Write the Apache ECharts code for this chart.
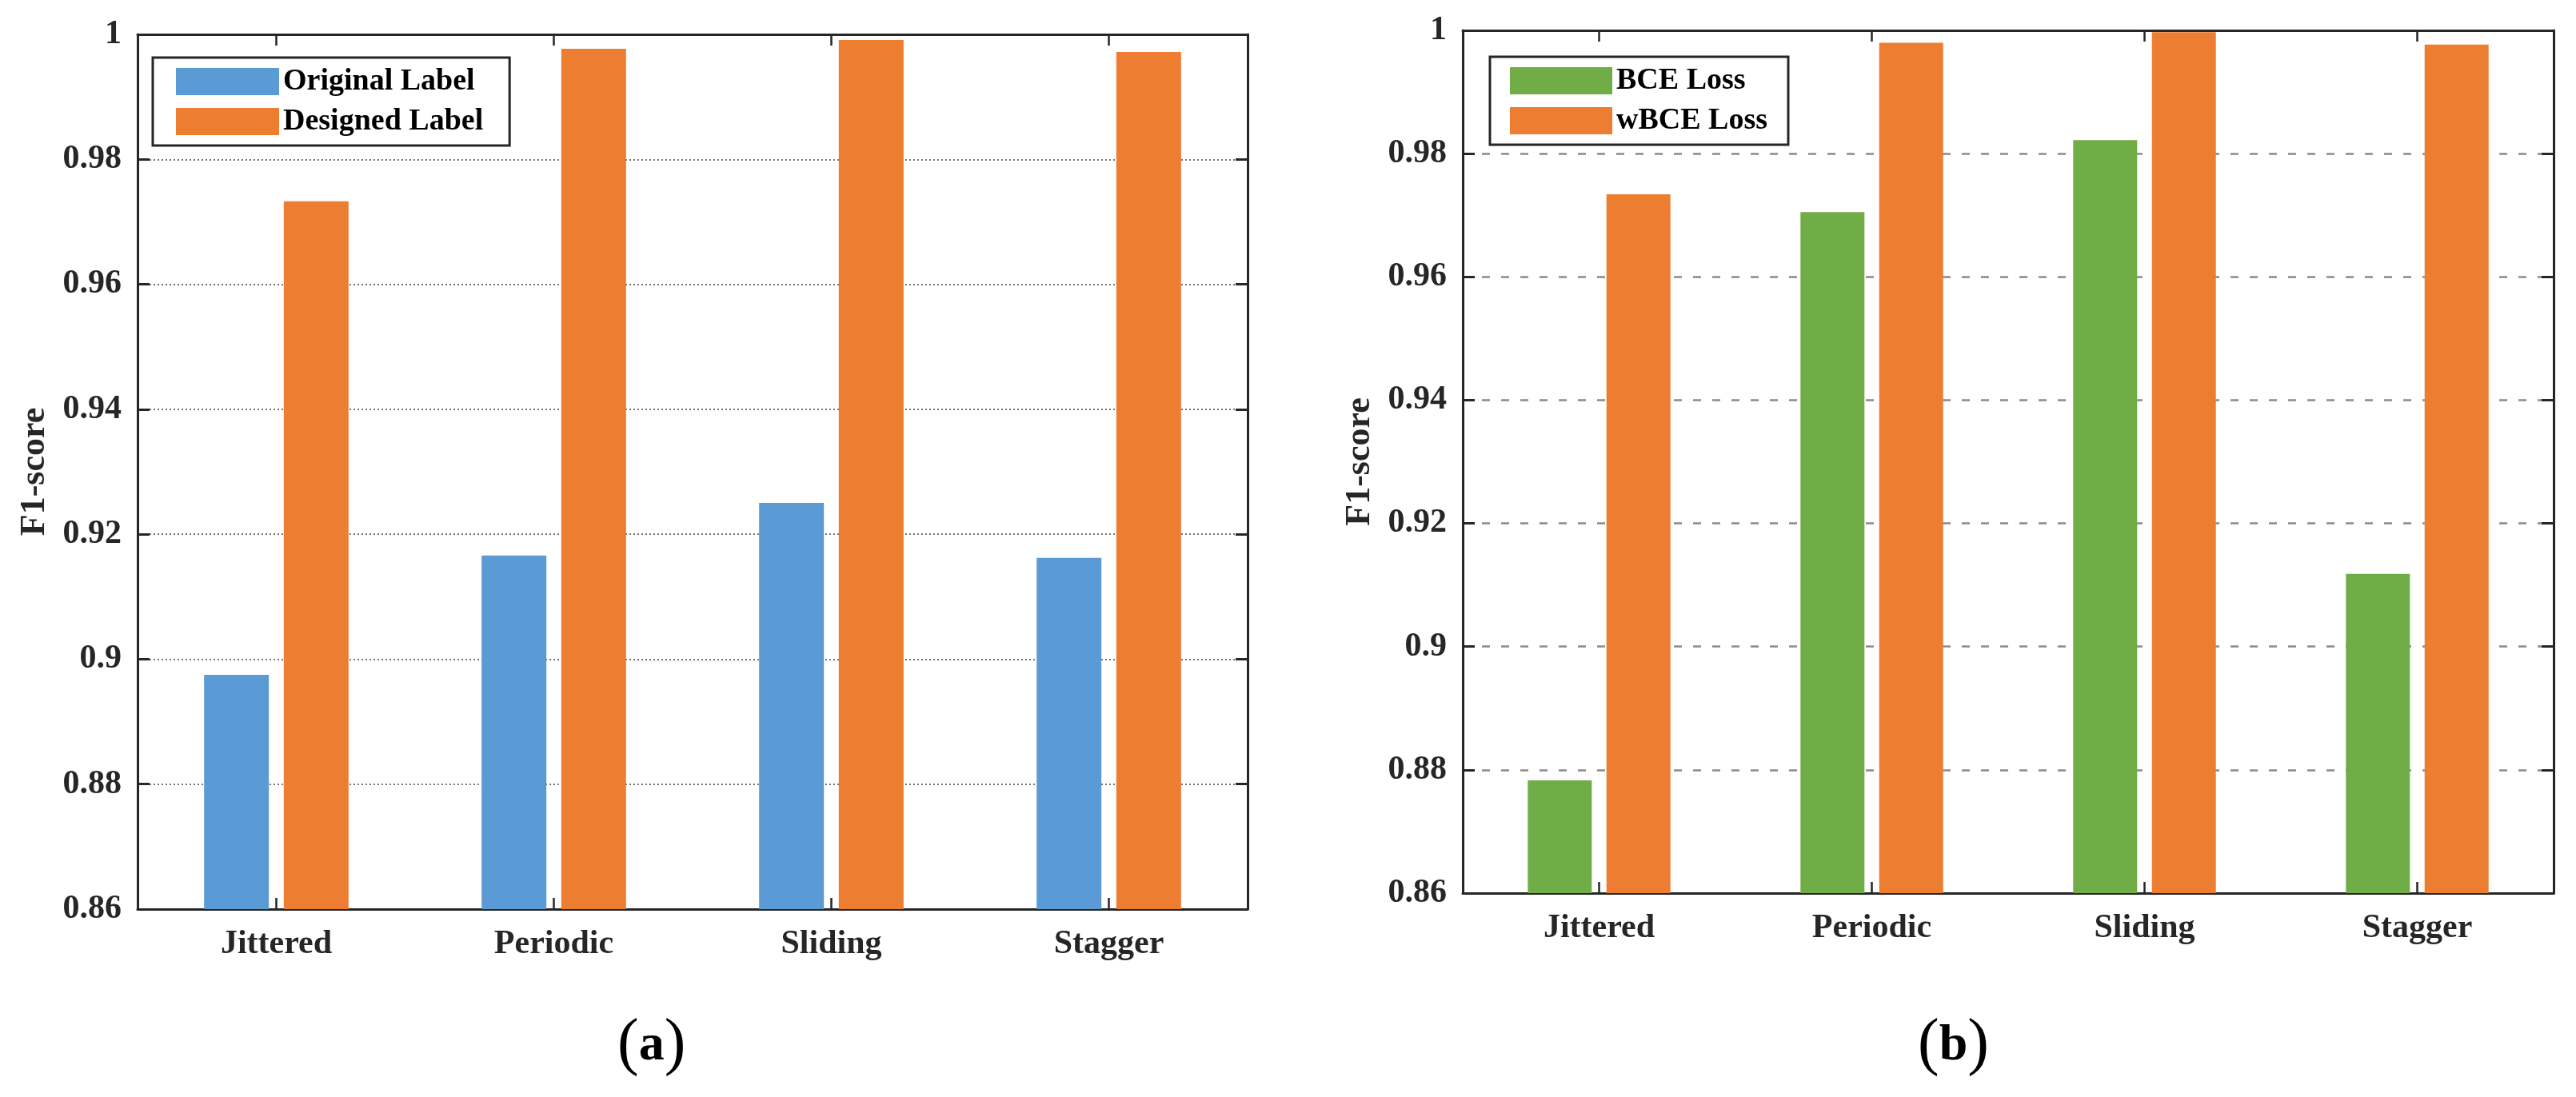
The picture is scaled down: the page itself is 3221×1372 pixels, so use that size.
<!DOCTYPE html>
<html>
<head>
<meta charset="utf-8">
<script src="https://cdn.jsdelivr.net/npm/echarts@6/dist/echarts.min.js"></script>
<style>
html,body{margin:0;padding:0;background:#fff;}
#chart{width:3221px;height:1372px;}
</style>
</head>
<body>
<div id="chart"></div>
<script>
const categories = ['Jittered', 'Periodic', 'Sliding', 'Stagger'];
const originalLabel = [0.8975, 0.9166, 0.9250, 0.9162];
const designedLabel = [0.9733, 0.9977, 0.9991, 0.9972];
const bceLoss = [0.8783, 0.9705, 0.9822, 0.9118];
const wbceLoss = [0.9734, 0.9980, 0.9997, 0.9977];
const yMin = 0.86, yMax = 1, yStep = 0.02;
const yAxisTitle = 'F1-score';
const panelLabels = ['a', 'b'];

const FONT = '"Liberation Serif", "Times New Roman", serif';
const INK = '#262626';
const BLUE = '#5B9BD5', ORANGE = '#ED7D31', GREEN = '#70AD47';

const grids = [
  { left: 172, top: 43, width: 1388, height: 1094 },
  { left: 1829, top: 38, width: 1364, height: 1079 }
];

function xAxes(gi) {
  const base = {
    type: 'category', data: categories, gridIndex: gi,
    axisLine: { show: true, lineStyle: { color: INK, width: 3 } },
    axisTick: { show: true, inside: true, alignWithLabel: true, length: 14, lineStyle: { color: INK, width: 2.5 } },
    splitLine: { show: false }
  };
  return [
    Object.assign({}, base, {
      position: 'bottom',
      axisLabel: { show: true, fontFamily: FONT, fontWeight: 'bold', fontSize: 42, color: INK, margin: 23 }
    }),
    Object.assign({}, base, { position: 'top', axisLabel: { show: false } })
  ];
}

function yAxes(gi, gridStyle, nameGap) {
  const base = {
    type: 'value', gridIndex: gi, min: yMin, max: yMax, interval: yStep,
    axisLine: { show: true, lineStyle: { color: INK, width: 3 } },
    axisTick: { show: true, inside: true, length: 15, lineStyle: { color: INK, width: 3 } }
  };
  return [
    Object.assign({}, base, {
      position: 'left',
      name: yAxisTitle, nameLocation: 'middle', nameRotate: 90, nameGap: nameGap,
      nameTextStyle: { fontFamily: FONT, fontWeight: 'bold', fontSize: 44, color: INK },
      axisLabel: { show: true, fontFamily: FONT, fontWeight: 'bold', fontSize: 42, color: INK, margin: 20 },
      splitLine: { show: true, lineStyle: gridStyle }
    }),
    Object.assign({}, base, {
      position: 'right', axisLabel: { show: false }, splitLine: { show: false }
    })
  ];
}

const legendText = { fontFamily: FONT, fontWeight: 'bold', fontSize: 38, color: '#000', lineHeight: 34 };

const option = {
  animation: false,
  backgroundColor: '#fff',
  grid: grids,
  xAxis: [].concat(xAxes(0), xAxes(1)),
  yAxis: [].concat(
    yAxes(0, { color: '#444', width: 1.5, type: [2, 3] }, 106),
    yAxes(1, { color: '#8a8a8a', width: 2.5, type: [10, 14] }, 106)
  ),
  legend: [
    {
      data: ['Original Label', 'Designed Label'], orient: 'vertical',
      left: 191, top: 72, itemWidth: 129, itemHeight: 34, itemGap: 12,
      padding: [11, 33, 11, 29], borderColor: INK, borderWidth: 3, borderRadius: 0,
      backgroundColor: '#fff', textStyle: legendText, icon: 'rect'
    },
    {
      data: ['BCE Loss', 'wBCE Loss'], orient: 'vertical',
      left: 1863, top: 71, itemWidth: 128, itemHeight: 34, itemGap: 12,
      padding: [11, 26, 11, 25], borderColor: INK, borderWidth: 3, borderRadius: 0,
      backgroundColor: '#fff', textStyle: legendText, icon: 'rect'
    }
  ],
  series: [
    { name: 'Original Label', type: 'bar', xAxisIndex: 0, yAxisIndex: 0, data: originalLabel,
      barWidth: 81, barGap: '23%', itemStyle: { color: BLUE } },
    { name: 'Designed Label', type: 'bar', xAxisIndex: 0, yAxisIndex: 0, data: designedLabel,
      barWidth: 81, barGap: '23%', itemStyle: { color: ORANGE } },
    { name: 'BCE Loss', type: 'bar', xAxisIndex: 2, yAxisIndex: 2, data: bceLoss,
      barWidth: 80, barGap: '23%', itemStyle: { color: GREEN } },
    { name: 'wBCE Loss', type: 'bar', xAxisIndex: 2, yAxisIndex: 2, data: wbceLoss,
      barWidth: 80, barGap: '23%', itemStyle: { color: ORANGE } }
  ],
  graphic: [
    { type: 'text', left: 772, top: 1268, style: {
        text: '{p|(}{a|' + panelLabels[0] + '}{p|)}',
        rich: {
          p: { fontFamily: FONT, fontSize: 80, fill: '#000', fontWeight: 'normal' },
          a: { fontFamily: FONT, fontSize: 64, fill: '#000', fontWeight: 'bold' }
        } } },
    { type: 'text', left: 2398, top: 1268, style: {
        text: '{p|(}{a|' + panelLabels[1] + '}{p|)}',
        rich: {
          p: { fontFamily: FONT, fontSize: 80, fill: '#000', fontWeight: 'normal' },
          a: { fontFamily: FONT, fontSize: 64, fill: '#000', fontWeight: 'bold' }
        } } }
  ]
};

const chart = echarts.init(document.getElementById('chart'), null, { renderer: 'canvas' });
chart.setOption(option);
</script>
</body>
</html>
